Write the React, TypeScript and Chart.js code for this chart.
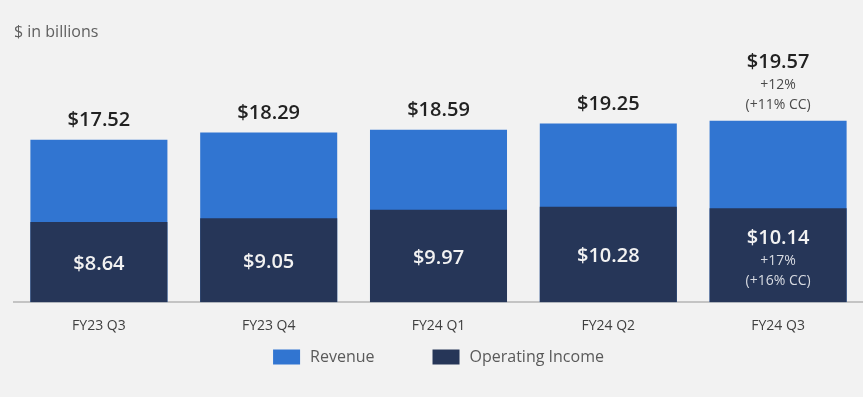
import React, { useEffect, useRef } from "react";
import { Chart, registerables } from "chart.js";

Chart.register(...registerables);

const categories = ["FY23 Q3", "FY23 Q4", "FY24 Q1", "FY24 Q2", "FY24 Q3"];
const revenue = [17.52, 18.29, 18.59, 19.25, 19.57];
const operatingIncome = [8.64, 9.05, 9.97, 10.28, 10.14];
const revenueGrowth = ["", "", "", "", "+12%"];
const revenueGrowthCC = ["", "", "", "", "(+11% CC)"];
const opIncomeGrowth = ["", "", "", "", "+17%"];
const opIncomeGrowthCC = ["", "", "", "", "(+16% CC)"];
const seriesNames = ["Revenue", "Operating Income"];
const unitLabel = "$ in billions";

const REV_COLOR = "#3175d1";
const OI_COLOR = "#263658";
const FONT = "'Open Sans', 'Noto Sans', sans-serif";

const fmt = (v: number) => "$" + v.toFixed(2);

const labelPlugin = {
  id: "customLabels",
  afterDatasetsDraw(chart: any) {
    const ctx = chart.ctx;
    const revMeta = chart.getDatasetMeta(0);
    const oiMeta = chart.getDatasetMeta(1);
    ctx.save();
    ctx.textAlign = "center";
    ctx.textBaseline = "middle";
    categories.forEach((_, i) => {
      const rb = revMeta.data[i];
      const ob = oiMeta.data[i];
      if (!rb || !ob) return;
      const rTop = rb.y;
      if (revenueGrowth[i]) {
        ctx.fillStyle = "#222222";
        ctx.font = `600 20px ${FONT}`;
        ctx.fillText(fmt(revenue[i]), rb.x, rTop - 58);
        ctx.fillStyle = "#4a4a4a";
        ctx.font = `14px ${FONT}`;
        ctx.fillText(revenueGrowth[i], rb.x, rTop - 36);
        ctx.fillText(revenueGrowthCC[i], rb.x, rTop - 16);
      } else {
        ctx.fillStyle = "#222222";
        ctx.font = `600 20px ${FONT}`;
        ctx.fillText(fmt(revenue[i]), rb.x, rTop - 19);
      }
      const oTop = ob.y;
      const oBase = ob.base;
      if (opIncomeGrowth[i]) {
        ctx.fillStyle = "#f2f2f2";
        ctx.font = `600 20px ${FONT}`;
        ctx.fillText(fmt(operatingIncome[i]), ob.x, oTop + 30);
        ctx.fillStyle = "#d8dbe2";
        ctx.font = `14px ${FONT}`;
        ctx.fillText(opIncomeGrowth[i], ob.x, oTop + 53);
        ctx.fillText(opIncomeGrowthCC[i], ob.x, oTop + 73);
      } else {
        ctx.fillStyle = "#f2f2f2";
        ctx.font = `600 20px ${FONT}`;
        ctx.fillText(fmt(operatingIncome[i]), ob.x, (oTop + oBase) / 2 + 2);
      }
    });
    ctx.restore();
  },
  afterDraw(chart: any) {
    const ctx = chart.ctx;
    const area = chart.chartArea;
    ctx.save();
    ctx.fillStyle = "#606060";
    ctx.font = `16px ${FONT}`;
    ctx.textAlign = "left";
    ctx.textBaseline = "middle";
    ctx.fillText(unitLabel, 14, 32);
    const boxW = 27;
    const boxH = 15;
    const textGap = 10;
    const itemGap = 58;
    const ds = chart.data.datasets;
    const widths = ds.map((d: any) => ctx.measureText(d.label).width);
    const total = widths.reduce((a: number, w: number) => a + boxW + textGap + w, 0) + itemGap * (ds.length - 1);
    let x = (area.left + area.right) / 2 - total / 2;
    const cy = 357;
    ds.forEach((d: any, k: number) => {
      ctx.fillStyle = d.backgroundColor;
      ctx.fillRect(x, cy - boxH / 2, boxW, boxH);
      ctx.fillStyle = "#5a5a5a";
      ctx.fillText(d.label, x + boxW + textGap, cy);
      x += boxW + textGap + widths[k] + itemGap;
    });
    ctx.restore();
  },
};

export default function App() {
  const ref = useRef<HTMLCanvasElement>(null);
  useEffect(() => {
    if (!ref.current) return;
    const chart = new Chart(ref.current, {
      type: "bar",
      data: {
        labels: categories,
        datasets: [
          {
            label: seriesNames[0],
            data: revenue,
            backgroundColor: REV_COLOR,
            order: 1,
            categoryPercentage: 1,
            barPercentage: 0.807,
          },
          {
            label: seriesNames[1],
            data: operatingIncome,
            backgroundColor: OI_COLOR,
            order: 0,
            categoryPercentage: 1,
            barPercentage: 0.807,
          },
        ],
      },
      options: {
        responsive: false,
        animation: false,
        layout: { padding: { top: 20, left: 14, right: 0, bottom: 48 } },
        plugins: {
          legend: { display: false },
          tooltip: { enabled: false },
          title: { display: false },
        },
        scales: {
          x: {
            stacked: true,
            grid: { display: false, drawTicks: false },
            border: { display: true, color: "#c4c4c4", width: 2 },
            ticks: {
              padding: 15,
              color: "#404040",
              font: { family: FONT, size: 14 },
            },
          },
          y: {
            stacked: false,
            display: false,
            min: 0,
            max: 30.42,
          },
        },
      },
      plugins: [labelPlugin],
    });
    return () => chart.destroy();
  }, []);
  return (
    <div
      style={{
        position: "absolute",
        left: 0,
        top: 0,
        width: 863,
        height: 397,
        background: "#f2f2f2",
      }}
    >
      <canvas ref={ref} width={863} height={397} />
    </div>
  );
}
